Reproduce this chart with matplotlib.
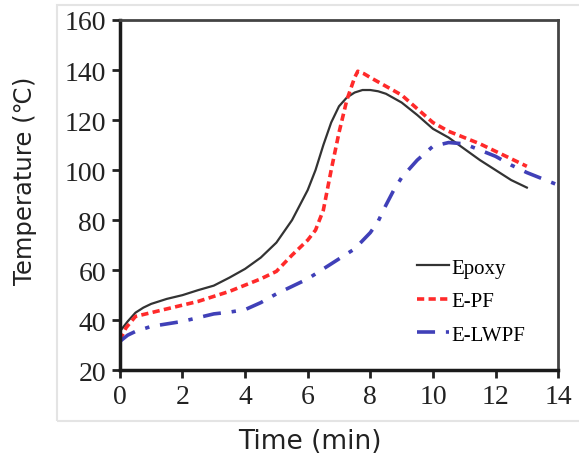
import matplotlib
matplotlib.use('Agg')
import matplotlib.pyplot as plt
from matplotlib.patches import Rectangle

# values
epoxy_t = [0, 0.25, 0.5, 0.75, 1, 1.5, 2, 2.5, 3, 3.5, 4, 4.5, 5, 5.5, 6, 6.25, 6.5, 6.75,
           7, 7.25, 7.5, 7.75, 8, 8.25, 8.5, 9, 9.5, 10, 10.5, 11, 11.5, 12, 12.5, 13]
epoxy_T = [35.5, 39.5, 43, 45, 46.5, 48.5, 50, 52, 53.8, 57, 60.5, 65, 71, 80, 92, 100, 110, 119,
           125.5, 129, 131, 132, 132, 131.5, 130.5, 127, 122, 116.5, 113, 108.5, 104, 100, 96, 93]

epf_t = [0, 0.2, 0.5, 1, 1.5, 2, 2.5, 3, 3.5, 4, 4.5, 5, 5.5, 6, 6.25, 6.5, 6.75, 7, 7.25,
         7.5, 7.6, 7.8, 8, 8.5, 9, 9.5, 10, 10.5, 11, 11.5, 12, 12.5, 13]
epf_T = [32, 37, 41.5, 43, 44.5, 46, 47.5, 49.5, 51.5, 54, 56.5, 59.5, 66, 72, 76, 84, 100, 115, 128,
         137, 139.5, 138.5, 137, 133.5, 130, 124.5, 119, 115.5, 113, 110.5, 107.5, 104.5, 101.5]

elwpf_t = [0, 0.25, 0.5, 1, 1.5, 2, 2.5, 3, 3.5, 4, 4.5, 5, 5.5, 6, 6.5, 7, 7.5, 8, 8.25, 8.5,
           8.75, 9, 9.5, 10, 10.5, 11, 11.5, 12, 12.5, 13, 13.5, 14]
elwpf_T = [31.5, 34, 35.5, 37.5, 38.5, 39.5, 41, 42.5, 43.2, 44.2, 47, 50.5, 53.5, 56.5, 60.5, 64.5,
           68.5, 75, 79.5, 86, 92, 97, 104, 109.5, 111, 110.5, 108, 105.5, 102, 99, 96.5, 94]

xticks = [0, 2, 4, 6, 8, 10, 12, 14]
yticks = [20, 40, 60, 80, 100, 120, 140, 160]

fig = plt.figure(figsize=(5.79, 4.56), dpi=100)
ax = fig.add_axes([0.207, 0.186, 0.757, 0.768])

# faint outer frame like the pasted excel chart
fig.patches.append(Rectangle((0.099, 0.075), 0.95, 0.912, transform=fig.transFigure,
                             fill=False, edgecolor='#e4e4e4', lw=1.5))

ax.plot(epoxy_t, epoxy_T, color='#333333', lw=1.6, label='Epoxy')
ax.plot(epf_t, epf_T, color='#ff2a2a', lw=2.6, dashes=(2.0, 1.2), label='E-PF')
ax.plot(elwpf_t, elwpf_T, color='#4040b8', lw=2.6, dashes=(5, 3, 1.2, 3), label='E-LWPF')

ax.set_xlim(0, 14)
ax.set_ylim(20, 160)
ax.set_xticks(xticks)
ax.set_yticks(yticks)

serif = 'Liberation Serif'
for lab in ax.get_xticklabels() + ax.get_yticklabels():
    lab.set_fontfamily(serif)
    lab.set_fontsize(20)
    lab.set_color('#222222')
ax.tick_params(direction='out', length=6, width=2, color='#222222', pad=4)

for s in ['left', 'bottom']:
    ax.spines[s].set_linewidth(2.5)
    ax.spines[s].set_color('#1a1a1a')
for s in ['top', 'right']:
    ax.spines[s].set_linewidth(2)
    ax.spines[s].set_color('#444444')

ax.set_xlabel('Time (min)', fontsize=19, family='DejaVu Sans', color='#222222')
ax.set_ylabel('Temperature (℃)', fontsize=17.5, family='DejaVu Sans', color='#222222')
ax.xaxis.set_label_coords(0.434, -0.203)
ax.yaxis.set_label_coords(-0.217, 0.543)
ax.xaxis.label.set_va('center')
ax.yaxis.label.set_va('center')

ax.legend(loc='upper left', bbox_to_anchor=(0.66, 0.344), frameon=False,
          prop={'family': serif, 'size': 15}, handlelength=1.5, handletextpad=0.15,
          labelspacing=0.67, borderaxespad=0)

fig.savefig('out.png', dpi=100)
